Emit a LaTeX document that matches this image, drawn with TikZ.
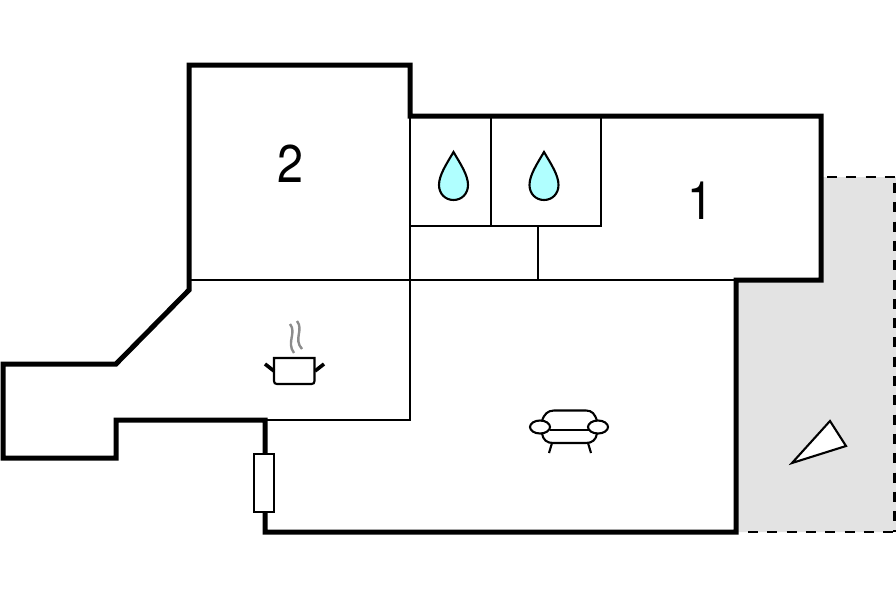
\documentclass[tikz,border=0pt]{standalone}
\usepackage{fontspec}
\setmainfont[FakeStretch=0.88]{TeX Gyre Heros}
\definecolor{dropblue}{HTML}{B0FFFF}
\begin{document}
\begin{tikzpicture}[
        x=1pt, y=-1pt,
        wall/.style={draw=black, line width=5pt, miter limit=10},
        inner wall/.style={draw=black, line width=2.2pt},
        terrace/.style={fill=black!11, draw=none},
        edge dash/.style={draw=black, dash pattern=on 10pt off 9.3pt},
        furniture/.style={draw=black, line width=2.1pt},
        label/.style={font=\fontsize{53}{53}\selectfont, inner sep=0pt},
        window/.style={rectangle, draw=black, fill=white, line width=2pt, minimum width=20pt, minimum height=58pt, inner sep=0pt},
        drop/.pic={
            \draw[furniture, fill=dropblue] (0,0) .. controls (-7,12) and (-14.5,23) .. (-14.5,33)
                .. controls (-14.5,42) and (-8,48) .. (0,48)
                .. controls (8,48) and (14.5,42) .. (14.5,33)
                .. controls (14.5,23) and (7,12) .. (0,0) -- cycle;
        }
    ]
    \useasboundingbox (0,0) rectangle (896,597);

    % terrace
    \fill[terrace] (821,177) -- (896,177) -- (896,532) -- (736,532) -- (736,280) -- (821,280) -- cycle;
    \draw[edge dash, line width=2.4pt] (827,177) -- (896,177);
    \draw[edge dash, line width=3.2pt] (894.5,183) -- (894.5,532);
    \draw[edge dash, line width=2.4pt] (748,532) -- (896,532);
    \draw[furniture, fill=white] (792,463) -- (830,421) -- (846,446) -- cycle;

    % inner walls
    \draw[inner wall] (410,116) -- (410,420) -- (265,420);
    \draw[inner wall] (189,280) -- (736,280);
    \draw[inner wall] (410,226) -- (601,226) -- (601,116);
    \draw[inner wall] (491,116) -- (491,226);
    \draw[inner wall] (538,226) -- (538,280);

    % outer walls
    \draw[wall] (189,65) -- (410,65) -- (410,116) -- (821,116) -- (821,280) -- (736,280)
        -- (736,532) -- (265,532) -- (265,420) -- (116,420) -- (116,458) -- (3,458)
        -- (3,364) -- (116,364) -- (189,290) -- cycle;
    \node[window] (door) at (264.3,483.3) {};

    \node[label] (room2) at (290.5,164) {2};
    \node[label] (room1) at (700.7,201) {1};

    \pic at (453.5,152) {drop};
    \pic at (544,152) {drop};

    % pot
    \draw[furniture] (274,358) -- (274,381) .. controls (274,383) and (275,384) .. (277,384)
        -- (311.5,384) .. controls (313.5,384) and (314.5,383) .. (314.5,381) -- (314.5,358) -- cycle;
    \draw[black, line width=3.6pt] (265,364) -- (274,371);
    \draw[black, line width=3.6pt] (324,364) -- (315,371);
    \draw[black!45, line width=2.4pt] (290,324) .. controls (297,333) and (286,342) .. (294,353);
    \draw[black!45, line width=2.4pt] (297,321) .. controls (304,330) and (293,339) .. (302,349);

    % sofa
    \draw[furniture] (542,421) .. controls (544,414) and (548,410.5) .. (554,410.5) -- (586,410.5)
        .. controls (592,410.5) and (595,414) .. (597,421);
    \draw[furniture] (540,427) ellipse (10 and 6.5);
    \draw[furniture] (598,427) ellipse (10 and 6.5);
    \draw[furniture] (549.5,430) -- (588.5,430);
    \draw[furniture] (542,433.5) .. controls (543,440) and (547,443) .. (553,443) -- (586,443)
        .. controls (592,443) and (596,440) .. (597,433.5);
    \draw[furniture] (552,443) -- (549,453);
    \draw[furniture] (588,443) -- (591,453);

\end{tikzpicture}
\end{document}
